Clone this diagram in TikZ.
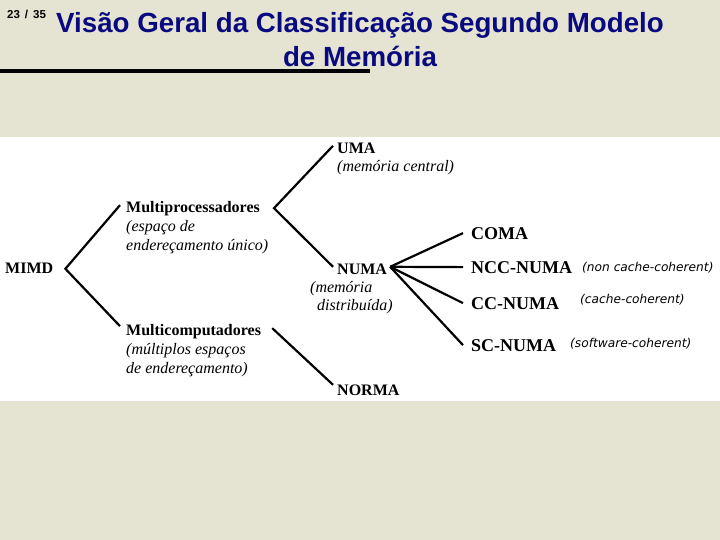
\documentclass[tikz,border=0pt]{standalone}
\usepackage{fontspec}
\setmainfont{Liberation Serif}
\setsansfont{Liberation Sans}
\newfontfamily\smallit{DejaVu Sans}
\usetikzlibrary{calc}
\definecolor{bgbeige}{RGB}{229,227,209}
\definecolor{titleblue}{RGB}{10,10,128}
\tikzset{
  bl/.style={anchor=base west,inner sep=0pt,font=\fontsize{16}{19}\selectfont\bfseries},
  itx/.style={anchor=base west,inner sep=0pt,font=\fontsize{16}{19}\selectfont\itshape},
  big/.style={anchor=base west,inner sep=0pt,font=\fontsize{18}{21}\selectfont\bfseries},
  sm/.style={anchor=base west,inner sep=0pt,font=\smallit\fontsize{12.2}{14}\selectfont\itshape},
  ttl/.style={anchor=base,inner sep=0pt,text=titleblue,font=\sffamily\bfseries\fontsize{27.7}{33}\selectfont},
  conn/.style={line width=2.2pt,black}
}
\begin{document}
\begin{tikzpicture}[x=1pt,y=-1pt]
\fill[bgbeige] (0,0) rectangle (720,540);
\useasboundingbox (0,0) rectangle (720,540);
% title
\node[anchor=base west,inner sep=0pt,font=\sffamily\bfseries\fontsize{11.5}{13}\selectfont] (pg) at (7,19) {23\hspace{5pt}/\hspace{5pt}35};
\node[ttl] (t1) at (360,33) {Visão Geral da Classificação Segundo Modelo};
\node[ttl] (t2) at (360,67) {de Memória};
\fill[black] (0,69.5) rectangle (370,73.5);
% white panel
\fill[white] (0,137) rectangle (720,401);
% nodes
\node[bl] (mimd) at (5,273) {MIMD};
\node[bl] (mp) at (126,213) {Multiprocessadores};
\node[itx] (mp1) at (126,232) {(espaço de};
\node[itx] (mp2) at (126,251) {endereçamento único)};
\node[bl] (mc) at (126,335) {Multicomputadores};
\node[itx] (mc1) at (126,354) {(múltiplos espaços};
\node[itx] (mc2) at (126,373) {de endereçamento)};
\node[bl] (uma) at (337,154) {UMA};
\node[itx] (uma1) at (337,172) {(memória central)};
\node[bl] (numa) at (337,274) {NUMA};
\node[itx] (numa1) at (310,292) {(memória};
\node[itx] (numa2) at (317,310) {distribuída)};
\node[bl] (norma) at (337,395) {NORMA};
\node[big] (coma) at (471,240) {COMA};
\node[big] (ncc) at (471,273) {NCC-NUMA};
\node[big] (cc) at (471,309) {CC-NUMA};
\node[big] (sc) at (471,351) {SC-NUMA};
\node[sm] (ncct) at (582,271) {(non cache-coherent)};
\node[sm] (cct) at (580,303) {(cache-coherent)};
\node[sm] (sct) at (570,347) {(software-coherent)};
% vertices
\coordinate (v0) at ($(mimd.east)+(12,1)$);
\coordinate (v1) at ($(mp.east)+(14,-1)$);
\coordinate (v2) at ($(mc.east)+(11,-3)$);
\coordinate (v3) at ($(numa.east)+(3,-2)$);
% connectors
\draw[conn] ($(mp.west)+(-6,-4)$) -- (v0) -- ($(mc.west)+(-6,-5)$);
\draw[conn] ($(uma.west)+(-4,-3)$) -- (v1) -- ($(numa.west)+(-4,-2)$);
\draw[conn] (v2) -- ($(norma.west)+(-4,-5)$);
\draw[conn] (v3) -- ($(coma.west)+(-8,-1)$);
\draw[conn] (v3) -- ($(ncc.west)+(-8,0)$);
\draw[conn] (v3) -- ($(cc.west)+(-8,0)$);
\draw[conn] (v3) -- ($(sc.west)+(-8,0)$);
\end{tikzpicture}
\end{document}
